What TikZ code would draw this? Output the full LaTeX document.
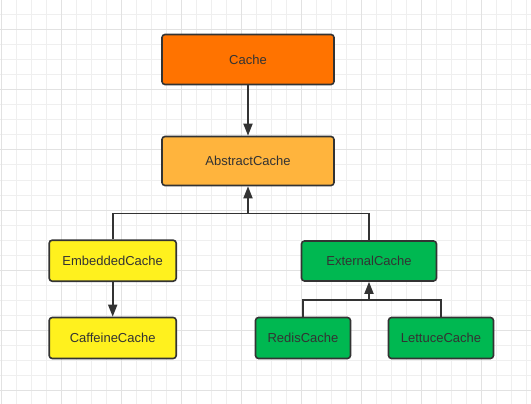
\documentclass[tikz,border=0pt]{standalone}
\usepackage{fontspec}
\setmainfont{Liberation Sans}
\usetikzlibrary{arrows.meta}
\definecolor{ink}{HTML}{333333}
\definecolor{corange}{HTML}{FF7300}
\definecolor{clight}{HTML}{FFB43D}
\definecolor{cyellow}{HTML}{FFF11E}
\definecolor{cgreen}{HTML}{00B851}
\definecolor{gminor}{HTML}{EFEFEF}
\definecolor{gmajor}{HTML}{E2E2E2}
\begin{document}
\begin{tikzpicture}[x=1pt,y=-1pt,
  box/.style={draw=ink,line width=1.6pt,rounded corners=3pt,inner sep=0pt,
    text=ink,font=\fontsize{13}{15}\selectfont},
  conn/.style={draw=ink,line width=1.8pt},
  arr/.style={conn,-{Triangle[length=12pt,width=9pt]}}]
\useasboundingbox (0,0) rectangle (531,404);
\fill[white] (0,0) rectangle (531,404);
\foreach \x in {1,16,...,531} \draw[gminor,line width=1pt] (\x,0) -- (\x,404);
\foreach \y in {0,15,...,404} \draw[gminor,line width=1pt] (0,\y) -- (531,\y);
\foreach \x in {1,61,...,531} \draw[gmajor,line width=1pt] (\x,0) -- (\x,404);
\foreach \y in {30,90,...,404} \draw[gmajor,line width=1pt] (0,\y) -- (531,\y);

\node[box,fill=corange,minimum width=172pt,minimum height=50pt] (cache) at (248,59.5) {Cache};
\node[box,fill=clight,minimum width=172pt,minimum height=49pt] (abs) at (248,161) {AbstractCache};
\node[box,fill=cyellow,minimum width=127pt,minimum height=41pt] (emb) at (112.7,260.7) {EmbeddedCache};
\node[box,fill=cyellow,minimum width=127pt,minimum height=41pt] (caf) at (112.7,338) {CaffeineCache};
\node[box,fill=cgreen,minimum width=135pt,minimum height=40pt] (ext) at (369,261) {ExternalCache};
\node[box,fill=cgreen,minimum width=95pt,minimum height=41pt] (red) at (303,338) {RedisCache};
\node[box,fill=cgreen,minimum width=105pt,minimum height=41pt] (let) at (441,338) {LettuceCache};

\coordinate (j1) at (248,213.5);
\coordinate (j2) at (369,300);

\draw[arr] (cache) -- (abs);
\draw[arr] (emb) -- (caf);
\draw[conn] (emb.north) |- (j1);
\draw[conn] (ext.north) |- (j1);
\draw[arr] (j1) -- (abs.south);
\draw[conn] (red.north) |- (j2);
\draw[conn] (let.north) |- (j2);
\draw[arr] (j2) -- (ext.south);
\end{tikzpicture}
\end{document}
